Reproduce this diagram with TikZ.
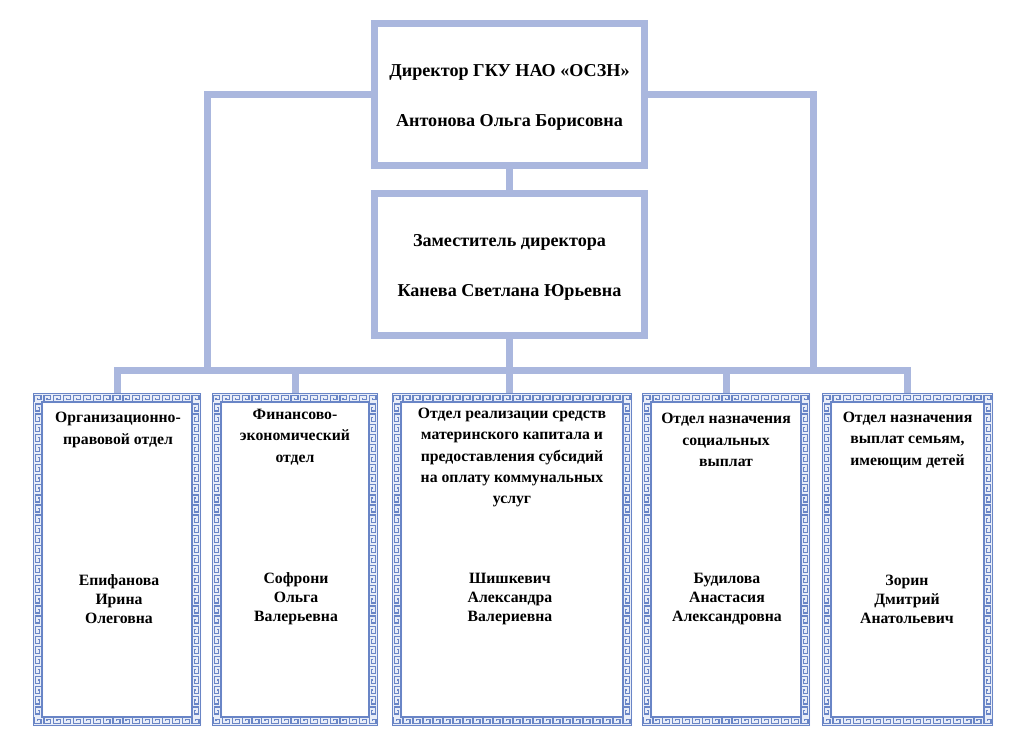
\documentclass[tikz,border=0pt]{standalone}
\usepackage{fontspec}
\setmainfont{Liberation Serif}
\definecolor{conblue}{RGB}{170,183,222}
\definecolor{keyblue}{RGB}{105,133,198}
\definecolor{keyfill}{RGB}{232,237,248}
\def\pxu{0.75pt}
\tikzset{
  conn/.style={draw=conblue, line width=7*\pxu},
  topbox/.style={draw=conblue, line width=7*\pxu, fill=white, inner sep=0pt,
    minimum width=270*\pxu, minimum height=141.5*\pxu},
  bbox/.style={inner sep=0pt, outer sep=0pt, minimum height=333*\pxu},
  keyline/.style={draw=keyblue, line width=0.95pt},
  ttext/.style={font=\bfseries\fontsize{13.6}{37.5}\selectfont, align=center, inner sep=0pt},
  htext/.style={font=\bfseries\fontsize{11.8}{16}\selectfont, align=center, inner sep=0pt},
  ntext/.style={font=\bfseries\fontsize{11.8}{14.3}\selectfont, align=center, inner sep=0pt},
}
\newcommand\kpt[2]{({\ox+(#1)*\ax+(#2)*\bx},{\oy+(#1)*\ay+(#2)*\by})}
\newcommand\keycell{%
  \draw[keyline] \kpt{1}{9}--\kpt{1}{2.6}--\kpt{8}{2.6}--\kpt{8}{6.8}--\kpt{4.2}{6.8}--\kpt{4.2}{5};}
\newcommand\keybox[4]{%
  \fill[keyfill, even odd rule] (#1,#2) rectangle (#3,#4) ({#1+10},{#2+10}) rectangle ({#3-10},{#4-10});
  \draw[keyline] ({#1+0.8},{#2+0.8}) rectangle ({#3-0.8},{#4-0.8});
  \draw[keyline] ({#1+9},{#2+9}) rectangle ({#3-9},{#4-9});
  \pgfmathtruncatemacro\nh{round((#3-#1)/10)}%
  \pgfmathsetmacro\cw{(#3-#1)/\nh}%
  \pgfmathtruncatemacro\nv{round((#4-#2-20)/10)}%
  \pgfmathsetmacro\ch{(#4-#2-20)/\nv}%
  \foreach \i in {1,...,\nh}{%
    \pgfmathsetmacro\ox{#1+(\i-1)*\cw}\def\oy{#2}\pgfmathsetmacro\ax{\cw/10}\def\ay{0}\def\bx{0}\def\by{1}%
    \keycell
    \def\oy{#4}\def\by{-1}%
    \keycell
  }%
  \foreach \i in {1,...,\nv}{%
    \def\ox{#1}\pgfmathsetmacro\oy{#2+10+(\i-1)*\ch}\def\ax{0}\pgfmathsetmacro\ay{\ch/10}\def\bx{1}\def\by{0}%
    \keycell
    \def\ox{#3}\def\bx{-1}%
    \keycell
  }%
}
\begin{document}
\begin{tikzpicture}[x=0.75pt,y=-0.75pt]
\useasboundingbox (0,0) rectangle (1028,751);
\fill[white] (0,0) rectangle (1028,751);

% top boxes
\node[topbox] (dir) at (509.5,94.25) {};
\node[topbox] (mid) at (509.5,264.25) {};
\node[ttext] (dirtext) at (509.5,97) {Директор ГКУ НАО «ОСЗН»\\Антонова Ольга Борисовна};
\node[ttext] (midtext) at (509.5,267) {Заместитель директора\\Канева Светлана Юрьевна};

% bottom boxes
\keybox{33}{393}{201}{726}
\keybox{212}{393}{378}{726}
\keybox{392}{393}{632}{726}
\keybox{642}{393}{810}{726}
\keybox{822}{393}{993}{726}
\node[bbox, minimum width=168*\pxu] (b1) at (117,559.5) {};
\node[bbox, minimum width=166*\pxu] (b2) at (295,559.5) {};
\node[bbox, minimum width=240*\pxu] (b3) at (512,559.5) {};
\node[bbox, minimum width=168*\pxu] (b4) at (726,559.5) {};
\node[bbox, minimum width=171*\pxu] (b5) at (907.5,559.5) {};

% connectors
\coordinate (bus) at (509.5,370);
\coordinate (lbus) at (207.5,370);
\coordinate (rbus) at (813.5,370);
\draw[conn] (dir.south) -- (mid.north);
\draw[conn] (dir.west) -| (lbus);
\draw[conn] (dir.east) -| (rbus);
\draw[conn] (mid.south) -- (mid.south |- b3.north);
\draw[conn] (b1.north) |- (bus);
\draw[conn] (b2.north) |- (bus);
\draw[conn] (b4.north) |- (bus);
\draw[conn] (b5.north) |- (bus);

% texts in bottom boxes
\node[htext] (h1) at (118,430) {Организационно-\\правовой отдел};
\node[htext] (h2) at (295,437) {Финансово-\\экономический\\отдел};
\node[htext] (h3) at (512,457.5) {Отдел реализации средств\\материнского капитала и\\предоставления субсидий\\на оплату коммунальных\\услуг};
\node[htext] (h4) at (726,440) {Отдел назначения\\социальных\\выплат};
\node[htext] (h5) at (907.5,440) {Отдел назначения\\выплат семьям,\\имеющим детей};

\node[ntext] (n1) at (119,599) {Епифанова\\Ирина\\Олеговна};
\node[ntext] (n2) at (296,599) {Софрони\\Ольга\\Валерьевна};
\node[ntext] (n3) at (510,599) {Шишкевич\\Александра\\Валериевна};
\node[ntext] (n4) at (727,599) {Будилова\\Анастасия\\Александровна};
\node[ntext] (n5) at (907,599) {Зорин\\Дмитрий\\Анатольевич};
\end{tikzpicture}
\end{document}
